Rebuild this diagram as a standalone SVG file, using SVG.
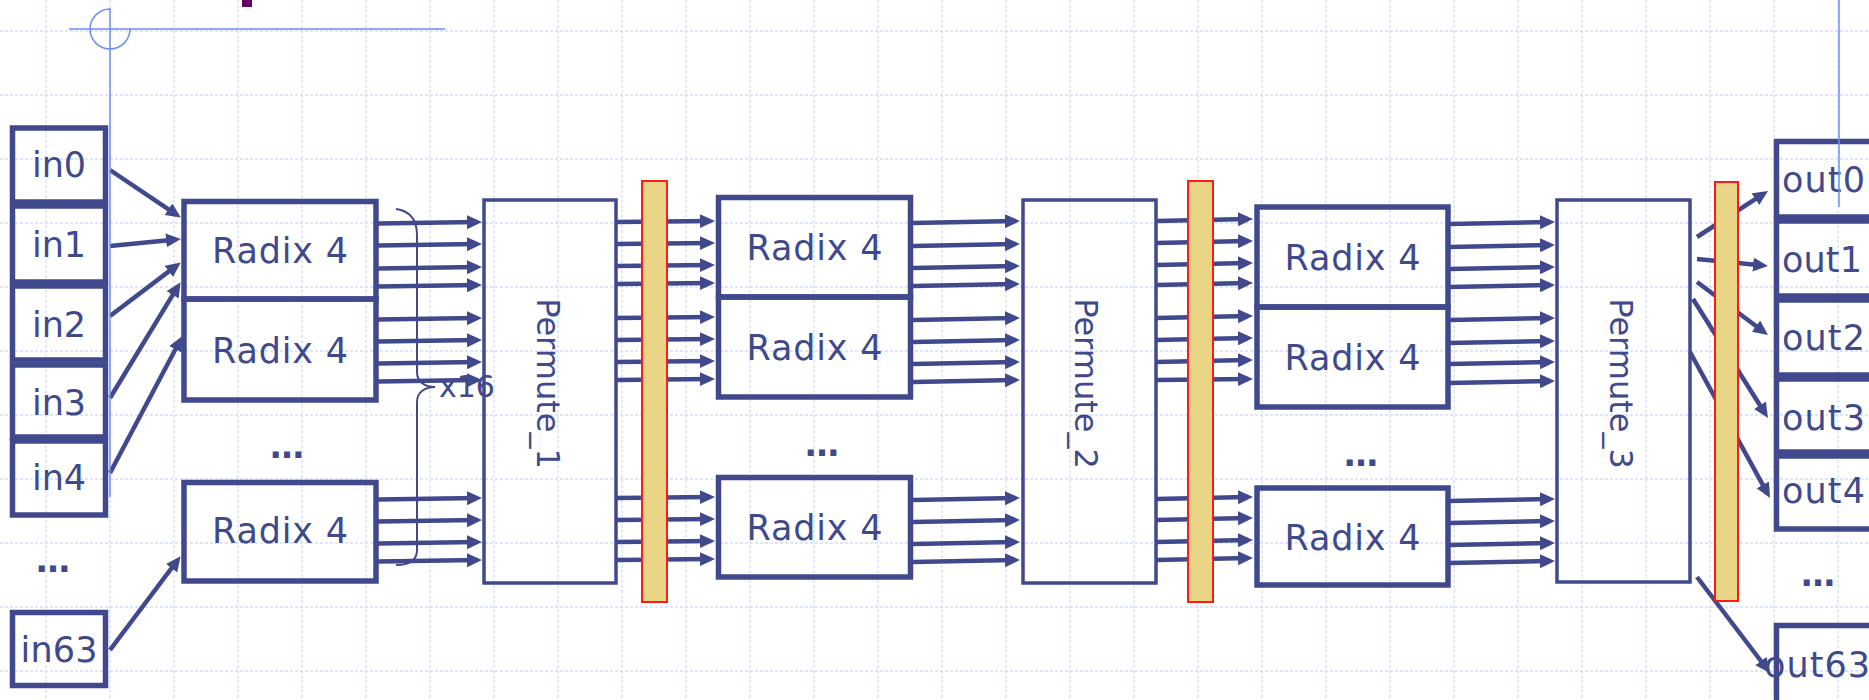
<svg xmlns="http://www.w3.org/2000/svg" width="1869" height="700" viewBox="0 0 1869 700">
<style>
.grid{stroke:#d4ddf8;stroke-width:1.3;stroke-dasharray:3 2;fill:none}
.guide{stroke:#6d8ef5;stroke-width:1.5;fill:none}
.io{fill:none;stroke:#40498c;stroke-width:5.5}
.rdx{fill:none;stroke:#40498c;stroke-width:5.5}
.perm{fill:none;stroke:#40498c;stroke-width:3.5}
.bar{fill:#e9d585;stroke:#ff1a1a;stroke-width:2}
.t{font-family:"DejaVu Sans",Verdana,sans-serif;fill:#40498c;font-size:35px}
.dots{font-family:"DejaVu Sans",Verdana,sans-serif;fill:#40498c;font-size:34px;font-weight:bold;text-anchor:middle}
.pt{font-family:"DejaVu Sans",Verdana,sans-serif;fill:#40498c;font-size:32px;text-anchor:middle}
.c line{stroke:#40498c;stroke-width:4.5;marker-end:url(#ah)}
.brace{fill:none;stroke:#40498c;stroke-width:2}
</style>
<defs>
<marker id="ah" markerUnits="userSpaceOnUse" markerWidth="16" markerHeight="16" refX="10" refY="7" orient="auto"><path d="M0,0 L15,7 L0,14 z" fill="#40498c"/></marker>
</defs>
<rect width="1869" height="700" fill="#ffffff"/>
<path class="grid" d="M46,0V700M110,0V700M174,0V700M238,0V700M302,0V700M366,0V700M430,0V700M494,0V700M558,0V700M622,0V700M686,0V700M750,0V700M814,0V700M878,0V700M942,0V700M1006,0V700M1070,0V700M1134,0V700M1198,0V700M1262,0V700M1326,0V700M1390,0V700M1454,0V700M1518,0V700M1582,0V700M1646,0V700M1710,0V700M1774,0V700M1838,0V700M0,31H1869M0,95H1869M0,159H1869M0,223H1869M0,287H1869M0,351H1869M0,415H1869M0,479H1869M0,543H1869M0,607H1869M0,671H1869"/>
<rect x="242" y="0" width="10" height="7" fill="#660066"/>

<g id="in0"><rect class="io" x="12.5" y="128" width="93" height="74"/><text class="t" x="59" y="177" text-anchor="middle">in0</text></g>
<g id="in1"><rect class="io" x="12.5" y="206" width="93" height="76"/><text class="t" x="59" y="257" text-anchor="middle">in1</text></g>
<g id="in2"><rect class="io" x="12.5" y="286" width="93" height="74"/><text class="t" x="59" y="337" text-anchor="middle">in2</text></g>
<g id="in3"><rect class="io" x="12.5" y="365" width="93" height="72"/><text class="t" x="59" y="415" text-anchor="middle">in3</text></g>
<g id="in4"><rect class="io" x="12.5" y="441" width="93" height="74"/><text class="t" x="59" y="490" text-anchor="middle">in4</text></g>
<g id="in-dots"><text class="dots" x="53" y="572">…</text></g>
<g id="in63"><rect class="io" x="12.5" y="612.5" width="93" height="73"/><text class="t" x="59" y="662" text-anchor="middle" textLength="77">in63</text></g>

<g id="r1a"><rect class="rdx" x="184" y="201.5" width="192" height="97.5"/><text class="t" x="280" y="263" text-anchor="middle" textLength="136">Radix 4</text></g>
<g id="r1b"><rect class="rdx" x="184" y="299" width="192" height="101"/><text class="t" x="280" y="363" text-anchor="middle" textLength="136">Radix 4</text></g>
<g id="r1-dots"><text class="dots" x="287" y="458">…</text></g>
<g id="r1c"><rect class="rdx" x="184" y="482.5" width="192" height="98.5"/><text class="t" x="280" y="543" text-anchor="middle" textLength="136">Radix 4</text></g>

<g id="p1"><rect class="perm" x="484" y="200" width="132" height="383"/><text class="pt" transform="translate(537,383.5) rotate(90)">Permute_1</text></g>

<g id="r2a"><rect class="rdx" x="718.5" y="197.5" width="192" height="99.5"/><text class="t" x="814.5" y="260" text-anchor="middle" textLength="136">Radix 4</text></g>
<g id="r2b"><rect class="rdx" x="718.5" y="297" width="192" height="100"/><text class="t" x="814.5" y="360" text-anchor="middle" textLength="136">Radix 4</text></g>
<g id="r2-dots"><text class="dots" x="822" y="456">…</text></g>
<g id="r2c"><rect class="rdx" x="718.5" y="477.5" width="192" height="99.5"/><text class="t" x="814.5" y="540" text-anchor="middle" textLength="136">Radix 4</text></g>

<g id="p2"><rect class="perm" x="1023" y="200" width="133" height="383"/><text class="pt" transform="translate(1075,383.5) rotate(90)">Permute_2</text></g>

<g id="r3a"><rect class="rdx" x="1257" y="207" width="191" height="100"/><text class="t" x="1352.5" y="270" text-anchor="middle" textLength="136">Radix 4</text></g>
<g id="r3b"><rect class="rdx" x="1257" y="307" width="191" height="100"/><text class="t" x="1352.5" y="370" text-anchor="middle" textLength="136">Radix 4</text></g>
<g id="r3-dots"><text class="dots" x="1361" y="466">…</text></g>
<g id="r3c"><rect class="rdx" x="1257" y="488" width="191" height="97"/><text class="t" x="1352.5" y="550" text-anchor="middle" textLength="136">Radix 4</text></g>

<g id="p3"><rect class="perm" x="1557" y="200" width="133" height="382"/><text class="pt" transform="translate(1610,383.5) rotate(90)">Permute_3</text></g>

<g id="out0"><rect class="io" x="1776.5" y="141.5" width="120" height="75.5"/><text class="t" x="1782" y="192" textLength="83">out0</text></g>
<g id="out1"><rect class="io" x="1776.5" y="221" width="120" height="75"/><text class="t" x="1782" y="272" textLength="80">out1</text></g>
<g id="out2"><rect class="io" x="1776.5" y="300" width="120" height="75"/><text class="t" x="1782" y="350" textLength="83">out2</text></g>
<g id="out3"><rect class="io" x="1776.5" y="379" width="120" height="73"/><text class="t" x="1782" y="430" textLength="83">out3</text></g>
<g id="out4"><rect class="io" x="1776.5" y="456" width="120" height="73"/><text class="t" x="1782" y="503" textLength="83">out4</text></g>
<g id="out-dots"><text class="dots" x="1818" y="586">…</text></g>
<g id="out63"><rect class="io" x="1776.5" y="625.5" width="120" height="80"/><text class="t" x="1764" y="677" textLength="106">out63</text></g>

<g id="x16"><path class="brace" d="M396,209 C410,211 417,220 417,235 L417,372 C417,382 425,387 435,387 C425,387 417,392 417,402 L417,550 C417,560 410,565 396,565"/><text class="t" x="439" y="397" style="font-size:30px">x16</text></g>

<g id="connectors" class="c">
<line x1="110" y1="170" x2="176.7" y2="214.8"/>
<line x1="110" y1="246" x2="176" y2="239.4"/>
<line x1="110" y1="316" x2="176.8" y2="265.4"/>
<line x1="110" y1="398" x2="177.9" y2="286.4"/>
<line x1="110" y1="473" x2="180.1" y2="340.5"/>
<line x1="110" y1="650" x2="177.6" y2="560.2"/>

<line x1="378" y1="223.5" x2="477" y2="222"/>
<line x1="378" y1="245.5" x2="477" y2="244"/>
<line x1="378" y1="268.5" x2="477" y2="267"/>
<line x1="378" y1="286.5" x2="477" y2="285"/>
<line x1="378" y1="319.5" x2="477" y2="318"/>
<line x1="378" y1="341.5" x2="477" y2="340"/>
<line x1="378" y1="363.5" x2="477" y2="362"/>
<line x1="378" y1="381.5" x2="477" y2="380"/>
<line x1="378" y1="499.5" x2="477" y2="498"/>
<line x1="378" y1="521.5" x2="477" y2="520"/>
<line x1="378" y1="543.5" x2="477" y2="542"/>
<line x1="378" y1="561.5" x2="477" y2="560"/>

<line x1="617" y1="222" x2="710" y2="221"/>
<line x1="617" y1="244" x2="710" y2="243"/>
<line x1="617" y1="266" x2="710" y2="265"/>
<line x1="617" y1="284" x2="710" y2="283"/>
<line x1="617" y1="318" x2="710" y2="317"/>
<line x1="617" y1="340" x2="710" y2="339"/>
<line x1="617" y1="362" x2="710" y2="361"/>
<line x1="617" y1="380" x2="710" y2="379"/>
<line x1="617" y1="498" x2="710" y2="497"/>
<line x1="617" y1="520" x2="710" y2="519"/>
<line x1="617" y1="542" x2="710" y2="541"/>
<line x1="617" y1="560" x2="710" y2="559"/>

<line x1="913" y1="223" x2="1015" y2="221"/>
<line x1="913" y1="246" x2="1015" y2="244"/>
<line x1="913" y1="268" x2="1015" y2="266"/>
<line x1="913" y1="286" x2="1015" y2="284"/>
<line x1="913" y1="320" x2="1015" y2="318"/>
<line x1="913" y1="342" x2="1015" y2="340"/>
<line x1="913" y1="364" x2="1015" y2="362"/>
<line x1="913" y1="382" x2="1015" y2="380"/>
<line x1="913" y1="500" x2="1015" y2="498"/>
<line x1="913" y1="522" x2="1015" y2="520"/>
<line x1="913" y1="544" x2="1015" y2="542"/>
<line x1="913" y1="562" x2="1015" y2="560"/>

<line x1="1156" y1="221" x2="1248" y2="219"/>
<line x1="1156" y1="243" x2="1248" y2="241"/>
<line x1="1156" y1="265" x2="1248" y2="263"/>
<line x1="1156" y1="285" x2="1248" y2="283"/>
<line x1="1156" y1="318" x2="1248" y2="316"/>
<line x1="1156" y1="340" x2="1248" y2="338"/>
<line x1="1156" y1="362" x2="1248" y2="360"/>
<line x1="1156" y1="380" x2="1248" y2="379"/>
<line x1="1156" y1="499" x2="1248" y2="497"/>
<line x1="1156" y1="520" x2="1248" y2="518"/>
<line x1="1156" y1="542" x2="1248" y2="540"/>
<line x1="1156" y1="560" x2="1248" y2="558"/>

<line x1="1449" y1="224" x2="1550" y2="222"/>
<line x1="1449" y1="247" x2="1550" y2="245"/>
<line x1="1449" y1="269" x2="1550" y2="267"/>
<line x1="1449" y1="287" x2="1550" y2="285"/>
<line x1="1449" y1="320" x2="1550" y2="318"/>
<line x1="1449" y1="343" x2="1550" y2="341"/>
<line x1="1449" y1="364" x2="1550" y2="362"/>
<line x1="1449" y1="383" x2="1550" y2="381"/>
<line x1="1449" y1="501" x2="1550" y2="499"/>
<line x1="1449" y1="523" x2="1550" y2="521"/>
<line x1="1449" y1="545" x2="1550" y2="543"/>
<line x1="1449" y1="563" x2="1550" y2="561"/>

<line x1="1697" y1="237" x2="1763.8" y2="193.7"/>
<line x1="1697" y1="259" x2="1763" y2="265.5"/>
<line x1="1697" y1="282" x2="1764" y2="332"/>
<line x1="1693" y1="299" x2="1765.3" y2="413.8"/>
<line x1="1690" y1="352" x2="1767.6" y2="493.6"/>
<line x1="1697" y1="577" x2="1767" y2="669"/>
</g>

<g id="reg1"><rect class="bar" x="642" y="181" width="25" height="421"/></g>
<g id="reg2"><rect class="bar" x="1188" y="181" width="25" height="421"/></g>
<g id="reg3"><rect class="bar" x="1715" y="182" width="23" height="419"/></g>

<g id="guides">
<path class="guide" d="M69,29H445M110,9A20,20 0 1,0 130,29M110,8V497M1839,0V207"/>
</g>
</svg>
